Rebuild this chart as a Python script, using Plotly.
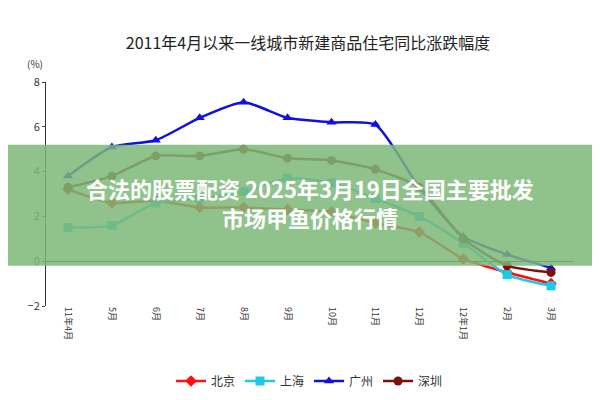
import plotly.graph_objects as go

months = ["11年4月","5月","6月","7月","8月","9月","10月","11月","12月","12年1月","2月","3月"]
beijing = [3.2, 2.6, 2.7, 2.4, 2.4, 2.3, 2.2, 1.7, 1.3, 0.1, -0.5, -1.0]
shanghai = [1.5, 1.6, 2.6, 2.8, 3.1, 3.7, 3.5, 2.8, 2.0, 0.8, -0.6, -1.1]
guangzhou = [3.8, 5.1, 5.4, 6.4, 7.1, 6.4, 6.2, 6.1, 3.3, 1.1, 0.3, -0.3]
shenzhen = [3.3, 3.8, 4.7, 4.7, 5.0, 4.6, 4.5, 4.1, 3.3, 1.0, -0.2, -0.5]

x = list(range(len(months)))
fig = go.Figure()
series = [("北京", beijing, "#ff1010", "diamond"),
          ("上海", shanghai, "#20c8e8", "square"),
          ("广州", guangzhou, "#1010e0", "triangle-up"),
          ("深圳", shenzhen, "#7a1010", "circle")]
for name, y, lc, sym in series:
    fig.add_trace(go.Scatter(x=x, y=y, name=name, mode="lines+markers",
        line=dict(color=lc, width=2.5, shape="spline", smoothing=0.6),
        marker=dict(symbol=sym, size=9, color=lc)))

fig.update_layout(
    width=600, height=400, plot_bgcolor="white", paper_bgcolor="white",
    margin=dict(l=38, r=35, t=74, b=98),
    title=dict(text="2011年4月以来一线城市新建商品住宅同比涨跌幅度", x=0.5, y=0.925,
               font=dict(size=16, color="#222", family="Noto Sans CJK SC")),
    font=dict(family="Noto Sans CJK SC", size=11, color="#333"),
    xaxis=dict(tickmode="array", tickvals=x, ticktext=months, tickangle=90,
               range=[-0.5, 11.5], showgrid=False, showline=False, zeroline=False,
               tickfont=dict(size=9)),
    yaxis=dict(range=[-2, 8], dtick=2, showgrid=False, showline=True, linecolor="#333",
               ticks="outside", ticklen=3, zeroline=True, zerolinecolor="#333", zerolinewidth=1),
    legend=dict(orientation="h", x=0.5, xanchor="center", y=-0.27, yanchor="top",
                font=dict(size=12)),
)
fig.add_annotation(text="(%)", xref="paper", yref="paper", x=-0.02, y=1.04, showarrow=False,
                   xanchor="center", yanchor="bottom", font=dict(size=10))
fig.add_shape(type="rect", xref="paper", yref="y", x0=-0.08, x1=1.07, y0=-0.2, y1=5.2,
              layer="above", line_width=0, fillcolor="rgba(125,185,120,0.85)")
fig.add_annotation(text="<b>合法的股票配资 2025年3月19日全国主要批发<br>市场甲鱼价格行情</b>", xref="paper", yref="y",
                   x=0.5, y=2.6, showarrow=False,
                   font=dict(size=22, color="white", family="Noto Sans CJK SC"))
fig.write_html("out.html")
